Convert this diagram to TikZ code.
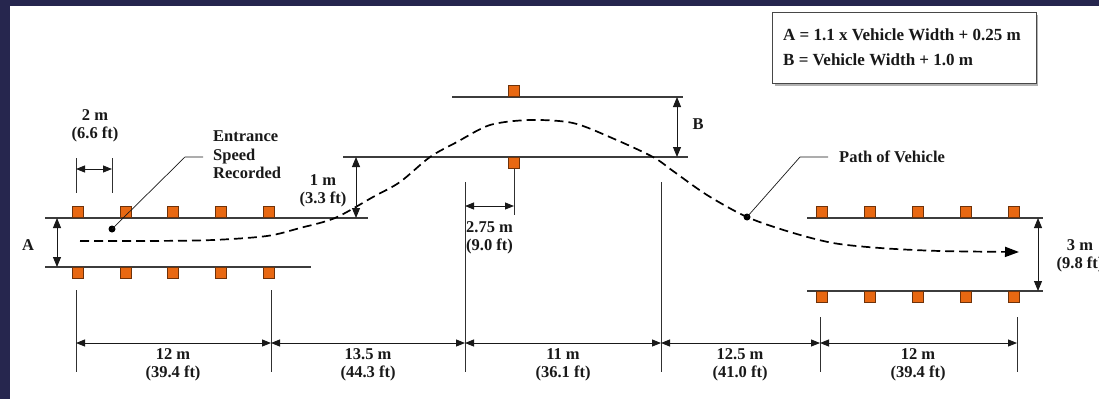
\documentclass[tikz,border=0pt]{standalone}
\usepackage{fontspec}
\setmainfont{Liberation Serif}
\usetikzlibrary{arrows.meta}
\definecolor{navy}{RGB}{38,38,78}
\definecolor{conefill}{RGB}{232,104,18}
\definecolor{conedge}{RGB}{110,50,10}
\definecolor{ink}{RGB}{25,25,25}
\begin{document}
\begin{tikzpicture}[x=1pt,y=-1pt,
  lane/.style={draw=ink!85, line width=1.3pt},
  ext/.style={draw=ink!90, line width=0.9pt},
  dimarrow/.style={draw=ink, line width=0.9pt, {Triangle[length=9pt,width=7pt]}-{Triangle[length=9pt,width=7pt]}},
  vdim/.style={draw=ink, line width=0.9pt, {Triangle[length=10pt,width=8pt]}-{Triangle[length=10pt,width=8pt]}},
  conebox/.style={draw=conedge, fill=conefill, line width=0.6pt, minimum size=11pt, inner sep=0pt},
  lbl/.style={font=\fontsize{16.5}{18.5}\selectfont\bfseries, align=center, inner sep=0pt, text=ink},
  lblleft/.style={font=\fontsize{16.5}{18.5}\selectfont\bfseries, align=left, inner sep=0pt, text=ink},
  legtext/.style={font=\fontsize{17}{20}\selectfont\bfseries, inner sep=0pt, anchor=west, text=ink},
  dotnode/.style={circle, fill=black, minimum size=7pt, inner sep=0pt},
  leader/.style={draw=ink, line width=0.7pt},
  vpath/.style={draw=black, line width=1.7pt, dash pattern=on 9pt off 5pt, -{Triangle[length=14pt,width=10pt]}}
]
\useasboundingbox (0,0) rectangle (1099,399);
\fill[navy] (0,0) rectangle (1099,399);
\fill[white] (10,6) rectangle (1099,399);

% ---------- legend ----------
\fill[gray!60] (774.5,14.5) rectangle (1038,85.5);
\node[draw=ink!80, fill=white, line width=0.9pt, minimum width=264pt, minimum height=71pt, inner sep=0pt, anchor=north west] (legbox) at (772,12) {};
\node[legtext] (legA) at (783,35) {A = 1.1 x Vehicle Width + 0.25 m};
\node[legtext] (legB) at (783,60) {B = Vehicle Width + 1.0 m};

% ---------- lane lines ----------
\coordinate (LTa) at (45,218);  \coordinate (LTb) at (368,218);
\coordinate (LBa) at (45,267);  \coordinate (LBb) at (311,267);
\coordinate (MTa) at (452,97);  \coordinate (MTb) at (683,97);
\coordinate (MLa) at (343,157); \coordinate (MLb) at (688,157);
\coordinate (RTa) at (807,218); \coordinate (RTb) at (1043,218);
\coordinate (RBa) at (807,291); \coordinate (RBb) at (1043,291);
\draw[lane] (LTa) -- (LTb);
\draw[lane] (LBa) -- (LBb);
\draw[lane] (MTa) -- (MTb);
\draw[lane] (MLa) -- (MLb);
\draw[lane] (RTa) -- (RTb);
\draw[lane] (RBa) -- (RBb);

% ---------- cones ----------
\foreach \x [count=\i] in {78,126,173,221,269} {
  \node[conebox, anchor=south] (lt\i) at (\x,218) {};
  \node[conebox, anchor=north] (lb\i) at (\x,267) {};
}
\foreach \x [count=\i] in {822,870,918,966,1014} {
  \node[conebox, anchor=south] (rt\i) at (\x,218) {};
  \node[conebox, anchor=north] (rb\i) at (\x,291) {};
}
\node[conebox, anchor=south] (mt) at (514,97) {};
\node[conebox, anchor=north] (ml) at (514,157) {};

% ---------- path of vehicle ----------
\draw[vpath] plot[smooth, tension=0.5] coordinates {
  (80,241) (150,241) (213,240) (267,236) (300,228) (335,218) (373,197)
  (400,182) (430,157) (457,142) (490,125) (530,120) (573,123) (612,138)
  (653,157) (673,171) (707,195) (747,217) (790,232) (833,243) (880,248)
  (940,251) (1019,252)};

% ---------- 2 m dimension ----------
\coordinate (e2a) at (76,158);  \coordinate (e2b) at (76,193);
\coordinate (e2c) at (112,158); \coordinate (e2d) at (112,193);
\draw[ext] (e2a) -- (e2b);
\draw[ext] (e2c) -- (e2d);
\coordinate (d2a) at (76,169); \coordinate (d2b) at (112,169);
\draw[dimarrow] (d2a) -- (d2b);
\node[lbl] (t2m) at (95,126) {2 m\\(6.6 ft)};

% ---------- entrance speed ----------
\node[dotnode] (dotE) at (112,229) {};
\coordinate (kE) at (185,157); \coordinate (hE) at (203,157);
\draw[leader] (dotE.center) -- (kE) -- (hE);
\node[lblleft, anchor=west] (tEnt) at (213,155) {Entrance\\Speed\\Recorded};

% ---------- A ----------
\coordinate (Aa) at (57,218); \coordinate (Ab) at (57,267);
\draw[vdim] (Aa) -- (Ab);
\node[lbl] (tA) at (28,245) {A};

% ---------- 1 m ----------
\coordinate (1a) at (356,157); \coordinate (1b) at (356,218);
\draw[vdim] (1a) -- (1b);
\node[lbl] (t1m) at (323,191) {1 m\\(3.3 ft)};

% ---------- B ----------
\coordinate (Ba) at (677,97); \coordinate (Bb) at (677,157);
\draw[vdim] (Ba) -- (Bb);
\node[lbl] (tB) at (698,124) {B};

% ---------- 3 m ----------
\coordinate (3a) at (1038,218); \coordinate (3b) at (1038,291);
\draw[vdim] (3a) -- (3b);
\node[lbl] (t3m) at (1080,256) {3 m\\(9.8 ft)};

% ---------- 2.75 m ----------
\coordinate (e275) at (514,215);
\draw[ext] (ml.south) -- (e275);
\coordinate (d275a) at (465,206); \coordinate (d275b) at (514,206);
\draw[dimarrow] (d275a) -- (d275b);
\node[lblleft, anchor=west] (t275) at (466,238) {2.75 m\\(9.0 ft)};

% ---------- path of vehicle label ----------
\node[dotnode] (dotP) at (747,217) {};
\coordinate (kP) at (800,157); \coordinate (hP) at (828,157);
\draw[leader] (dotP.center) -- (kP) -- (hP);
\node[lblleft, anchor=west] (tPath) at (839,157) {Path of Vehicle};

% ---------- bottom dimension chain ----------
\coordinate (v1a) at (76,290);   \coordinate (v1b) at (76,372);
\coordinate (v2a) at (271,290);  \coordinate (v2b) at (271,372);
\coordinate (v3a) at (465,182);  \coordinate (v3b) at (465,372);
\coordinate (v4a) at (661,182);  \coordinate (v4b) at (661,372);
\coordinate (v5a) at (820,317);  \coordinate (v5b) at (820,372);
\coordinate (v6a) at (1017,317); \coordinate (v6b) at (1017,372);
\foreach \v in {1,...,6} { \draw[ext] (v\v a) -- (v\v b); }
\coordinate (b1) at (76,343);  \coordinate (b2) at (271,343);
\coordinate (b3) at (465,343); \coordinate (b4) at (661,343);
\coordinate (b5) at (820,343); \coordinate (b6) at (1017,343);
\draw[dimarrow] (b1) -- (b2);
\draw[dimarrow] (b2) -- (b3);
\draw[dimarrow] (b3) -- (b4);
\draw[dimarrow] (b4) -- (b5);
\draw[dimarrow] (b5) -- (b6);
\node[lbl] (s1) at (173,365) {12 m\\(39.4 ft)};
\node[lbl] (s2) at (368,365) {13.5 m\\(44.3 ft)};
\node[lbl] (s3) at (563,365) {11 m\\(36.1 ft)};
\node[lbl] (s4) at (740,365) {12.5 m\\(41.0 ft)};
\node[lbl] (s5) at (918,365) {12 m\\(39.4 ft)};
\end{tikzpicture}
\end{document}
